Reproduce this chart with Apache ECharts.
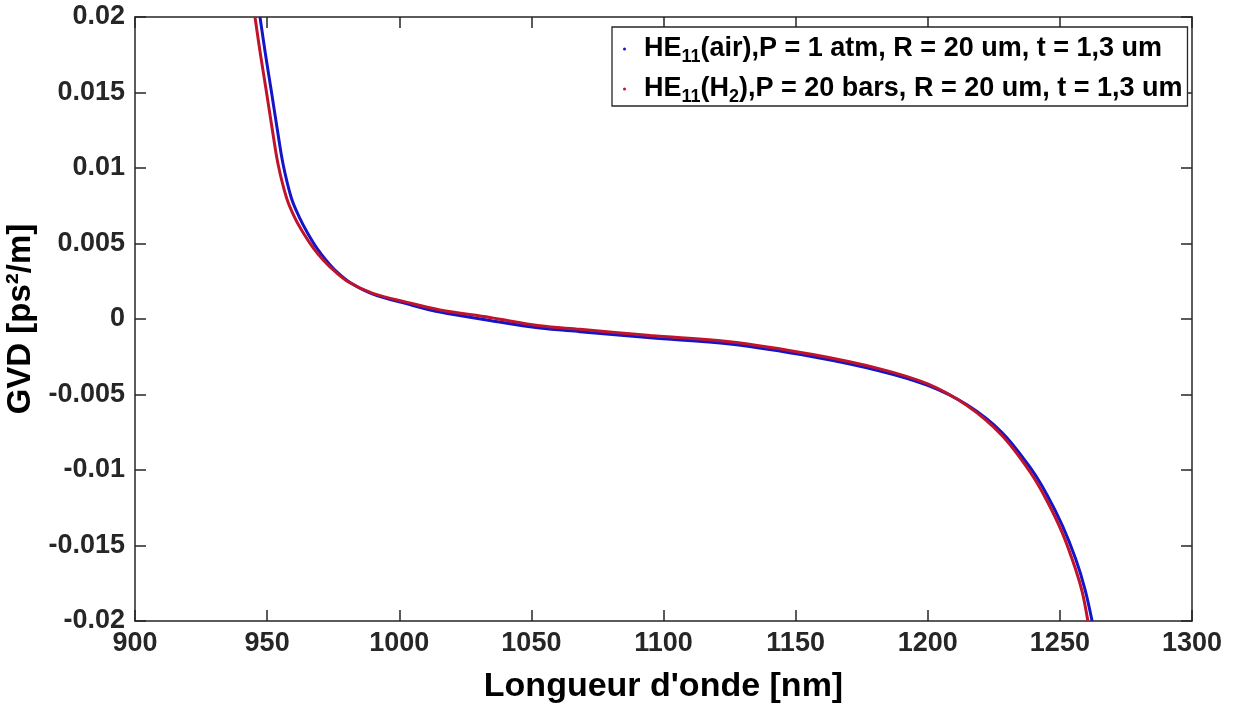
<!DOCTYPE html>
<html>
<head>
<meta charset="utf-8">
<script src="https://cdn.jsdelivr.net/npm/echarts@6/dist/echarts.min.js"></script>
<style>html,body{margin:0;padding:0;background:#fff}#c{width:1234px;height:706px}</style>
</head>
<body>
<div id="c"></div>
<script>
// Blue series: HE11 (air)
const airLambda = [947.3, 949.4, 951.5, 953.9, 956.1, 959.2, 962.3, 965.3, 968.8, 972.3, 976.5, 981.5, 990.0, 1003.0, 1015.4, 1034.3, 1053.2, 1068.4, 1095, 1125.1, 1156.5, 1181.9, 1200, 1215, 1228, 1238.6, 1245, 1251, 1256, 1259.5, 1262.2];
const airGVD    = [0.0200, 0.0175, 0.0152, 0.0125, 0.0102, 0.0080, 0.0067, 0.0057, 0.0047, 0.0039, 0.0031, 0.0024, 0.00165, 0.0010, 0.00046, -0.0001, -0.0006, -0.00084, -0.00125, -0.00166, -0.0025, -0.00344, -0.0044, -0.0057, -0.0075, -0.0098, -0.0116, -0.0137, -0.0159, -0.0179, -0.0200];
// Red series: HE11 (H2)
const h2Lambda = [945.4, 947.5, 949.6, 952.0, 954.2, 957.4, 960.5, 963.7, 967.5, 971.3, 976.0, 981.3, 990.0, 1003.0, 1015.4, 1034.3, 1053.2, 1068.4, 1095, 1125.1, 1156.5, 1181.9, 1200, 1215, 1228, 1238.6, 1245, 1251, 1256, 1258.5, 1260.6];
const h2GVD    = [0.0200, 0.0175, 0.0152, 0.0125, 0.0102, 0.0080, 0.0067, 0.0057, 0.0047, 0.0039, 0.0031, 0.0024, 0.0017, 0.0011, 0.0006, 0.0001, -0.00045, -0.00068, -0.0011, -0.0015, -0.00235, -0.0033, -0.0043, -0.00575, -0.0077, -0.0101, -0.0120, -0.0142, -0.0166, -0.0181, -0.0200];
const seriesNames = ['HE{sub|11}(air),P = 1 atm, R = 20 um, t = 1,3 um', 'HE{sub|11}(H{sub|2}),P = 20 bars, R = 20 um, t = 1,3 um'];
const xTicks = {min: 900, max: 1300, interval: 50};
const yTicks = {min: -0.02, max: 0.02, interval: 0.005};

const FONT = '"Liberation Sans", Arial, Helvetica, sans-serif';
const INK = '#262626';
const zip = (a, b) => a.map((v, i) => [v, b[i]]);

const chart = echarts.init(document.getElementById('c'));
const tickStyle = {show: true, inside: true, length: 11, lineStyle: {color: INK, width: 1.5}};
const lineStyleAx = {show: true, onZero: false, lineStyle: {color: INK, width: 1.5}};
const fmtY = v => String(parseFloat(v.toFixed(4)));
const fmtX = v => String(Math.round(v));

chart.setOption({
  backgroundColor: '#fff',
  animation: false,
  grid: {left: 135, right: 42, top: 17, bottom: 85, containLabel: false, outerBoundsMode: 'none'},
  legend: {
    orient: 'vertical', left: 612, top: 27,
    backgroundColor: '#fff', borderColor: INK, borderWidth: 1.3,
    padding: [5, 5, 0, 11], itemGap: 6,
    icon: 'circle', itemWidth: 3, itemHeight: 3,
    textStyle: {
      fontFamily: FONT, fontWeight: 'bold', fontSize: 27, color: '#000', lineHeight: 34, padding: [0, 0, 0, 13],
      rich: {sub: {fontFamily: FONT, fontWeight: 'bold', fontSize: 18, color: '#000', padding: [16, 0, 0, 0], lineHeight: 18}}
    },
    data: seriesNames
  },
  xAxis: [
    {type: 'value', position: 'bottom', ...xTicks, axisLine: lineStyleAx, axisTick: tickStyle, splitLine: {show: false},
     axisLabel: {fontFamily: FONT, fontWeight: 'bold', fontSize: 27, color: INK, margin: 9, formatter: fmtX},
     name: "Longueur d'onde [nm]", nameLocation: 'middle', nameGap: 49,
     nameTextStyle: {fontFamily: FONT, fontWeight: 'bold', fontSize: 34, color: '#000'}},
    {type: 'value', position: 'top', ...xTicks, axisLine: lineStyleAx, axisTick: tickStyle, splitLine: {show: false}, axisLabel: {show: false}}
  ],
  yAxis: [
    {type: 'value', position: 'left', ...yTicks, axisLine: lineStyleAx, axisTick: tickStyle, splitLine: {show: false},
     axisLabel: {fontFamily: FONT, fontWeight: 'bold', fontSize: 27, color: INK, margin: 10, formatter: fmtY},
     name: 'GVD [ps²/m]', nameLocation: 'middle', nameGap: 96,
     nameTextStyle: {fontFamily: FONT, fontWeight: 'bold', fontSize: 33, color: '#000'}},
    {type: 'value', position: 'right', ...yTicks, axisLine: lineStyleAx, axisTick: tickStyle, splitLine: {show: false}, axisLabel: {show: false}}
  ],
  series: [
    {name: seriesNames[0], type: 'line', data: zip(airLambda, airGVD), showSymbol: false, symbol: 'circle', symbolSize: 3,
     smooth: 0.35, color: '#1414c8', lineStyle: {width: 3, color: '#1414c8'}, clip: true, z: 2},
    {name: seriesNames[1], type: 'line', data: zip(h2Lambda, h2GVD), showSymbol: false, symbol: 'circle', symbolSize: 3,
     smooth: 0.35, color: '#c0142c', lineStyle: {width: 3, color: '#c0142c'}, clip: true, z: 3}
  ]
});
</script>
</body>
</html>
